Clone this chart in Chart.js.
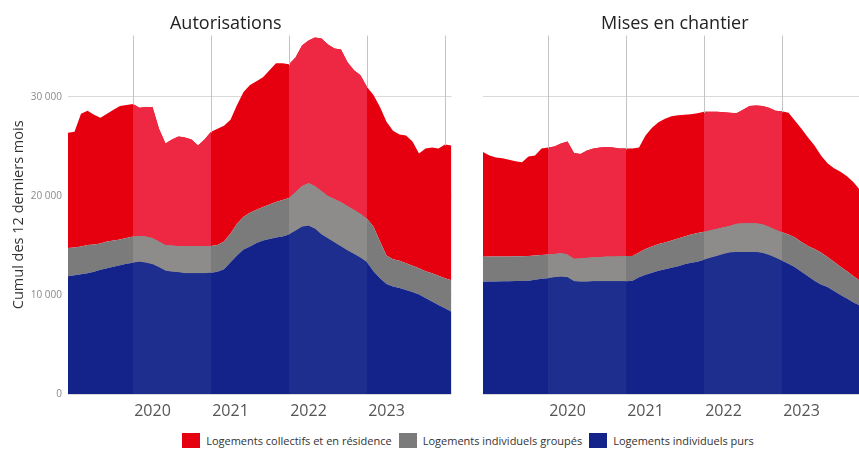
<!DOCTYPE html>
<html lang="fr">
<head>
<meta charset="utf-8">
<script src="https://cdn.jsdelivr.net/npm/chart.js@4.4.1/dist/chart.umd.min.js"></script>
<style>
    html, body { margin: 0; padding: 0; background: #fff; width: 859px; height: 449px; overflow: hidden; position: relative; font-family: "Open Sans", sans-serif; }
    #boxAut { position: absolute; left: 0; top: 0; width: 455px; height: 420px; }
    #boxMec { position: absolute; left: 470px; top: 0; width: 400px; height: 420px; }
    #legende { position: absolute; left: 0; top: 433px; width: 859px; display: flex; justify-content: center; align-items: center; font-size: 11px; color: #333; padding-left: 84px; box-sizing: border-box; }
    #legende span.carre { display: inline-block; width: 18px; height: 15px; margin-right: 6px; }
    #legende span.item { display: flex; align-items: center; margin-right: 7px; }
</style>
</head>
<body>
<div id="boxAut"><canvas id="graficoAut"></canvas></div>
<div id="boxMec"><canvas id="graficoMec"></canvas></div>
<div id="legende">
    <span class="item"><span class="carre" style="background:#E6000F"></span>Logements collectifs et en résidence</span>
    <span class="item"><span class="carre" style="background:#7B7B7B"></span>Logements individuels groupés</span>
    <span class="item"><span class="carre" style="background:#14238A"></span>Logements individuels purs</span>
</div>
<script>
// mois : décembre 2018 -> novembre 2023
const mois = [];
for (let a = 2018; a <= 2023; a++) {
    for (let m = 1; m <= 12; m++) {
        if ((a === 2018 && m < 12) || (a === 2023 && m > 11)) continue;
        mois.push(a + '-' + String(m).padStart(2, '0'));
    }
}
const anneesAffichees = ['2020', '2021', '2022', '2023'];
const graduationsY = [0, 10000, 20000, 30000];

// Autorisations
const autPurs = [11900, 12000, 12100, 12200, 12350, 12550, 12700, 12850, 13000, 13150,
    13250, 13350, 13250, 13100, 12800, 12450, 12350, 12300, 12200, 12200,
    12200, 12200, 12250, 12350, 12600, 13300, 14000, 14600, 14900, 15250,
    15500, 15650, 15800, 15900, 16100, 16500, 16900, 17000, 16700, 16100,
    15700, 15300, 14900, 14500, 14150, 13750, 13300, 12400, 11700, 11100,
    10850, 10700, 10500, 10300, 10050, 9700, 9350, 9000, 8650, 8300];
const autGroupes = [2850, 2800, 2800, 2850, 2750, 2650, 2700, 2650, 2600, 2600,
    2650, 2600, 2650, 2650, 2600, 2600, 2650, 2650, 2750, 2750,
    2750, 2750, 2700, 2700, 2800, 2900, 3200, 3300, 3400, 3350,
    3400, 3500, 3600, 3700, 3700, 3900, 4100, 4300, 4300, 4400,
    4300, 4400, 4500, 4500, 4450, 4450, 4400, 4500, 3700, 2900,
    2750, 2750, 2700, 2650, 2650, 2700, 2850, 2950, 3050, 3200];
const autCollectifs = [11650, 11700, 13400, 13550, 13100, 12700, 12900, 13200, 13500, 13450,
    13400, 12950, 13100, 13250, 11400, 10250, 10700, 11050, 10950, 10750,
    10150, 10750, 11550, 11750, 11700, 11500, 12000, 12600, 12900, 13000,
    13100, 13550, 14000, 13800, 13500, 13600, 14200, 14400, 15000, 15400,
    15300, 15200, 15400, 14500, 14100, 14000, 13300, 13300, 13600, 13500,
    13000, 12750, 12900, 12550, 11600, 12400, 12700, 12850, 13500, 13600];

// Mises en chantier
const mecPurs = [11350, 11360, 11370, 11380, 11400, 11410, 11420, 11450, 11550, 11650,
    11700, 11800, 11850, 11800, 11400, 11350, 11350, 11380, 11400, 11400,
    11400, 11400, 11400, 11450, 11800, 12050, 12250, 12450, 12600, 12750,
    12900, 13100, 13250, 13350, 13550, 13750, 13950, 14150, 14300, 14350,
    14350, 14350, 14350, 14250, 14050, 13750, 13450, 13150, 12800, 12350,
    11900, 11450, 11050, 10800, 10400, 10000, 9650, 9250, 8950, 8700];
const mecGroupes = [2520, 2520, 2520, 2520, 2500, 2500, 2500, 2490, 2450, 2400,
    2400, 2350, 2400, 2300, 2250, 2350, 2400, 2420, 2450, 2480,
    2500, 2520, 2540, 2500, 2500, 2600, 2650, 2700, 2700, 2750,
    2800, 2800, 2850, 2900, 2850, 2800, 2750, 2700, 2700, 2850,
    2890, 2890, 2890, 2900, 2850, 2850, 2900, 2950, 3000, 3000,
    3050, 3200, 3250, 3050, 2950, 2850, 2750, 2650, 2500, 2300];
const mecCollectifs = [10580, 10220, 10010, 9900, 9750, 9590, 9480, 10060, 10100, 10750,
    10800, 10850, 11050, 11400, 10700, 10550, 10850, 11000, 11050, 11070,
    11000, 10880, 10860, 10850, 10600, 11450, 12000, 12300, 12500, 12550,
    12450, 12300, 12150, 12100, 12100, 11950, 11800, 11600, 11400, 11150,
    11460, 11860, 11910, 11950, 12000, 12000, 12200, 12300, 11800, 11450,
    10950, 10450, 9800, 9450, 9450, 9600, 9600, 9500, 9150, 9000];

// bandes claires : octobre 2019 -> octobre 2020, octobre 2021 -> octobre 2022
const bandes = [['2019-10', '2020-10'], ['2021-10', '2022-10']];

// [foncé, clair]
const cores = {
    collectifs: ['#E6000F', '#EE2843'],
    groupes: ['#7B7B7B', '#8E8C8A'],
    purs: ['#14238A', '#1D2E8E']
};

// ne garde que les mois de la bande
function masque(data, b) {
    return data.map((v, i) => (mois[i] >= b[0] && mois[i] <= b[1]) ? v : null);
}

function serie(label, data, cor, fill, pilha, ordem) {
    return {
        label: label,
        data: data,
        stack: pilha,
        order: ordem,
        fill: fill,
        backgroundColor: cor,
        borderWidth: 0,
        borderColor: 'rgba(0,0,0,0)',
        pointRadius: 0,
        tension: 0,
        spanGaps: false
    };
}

// traits verticaux d'octobre, seulement au-dessus des aires
function grilleOctobre(series) {
    return {
        id: 'grilleOctobre',
        afterDatasetsDraw(chart) {
            const { ctx, chartArea, scales } = chart;
            ctx.save();
            ctx.strokeStyle = '#c4c4c4';
            ctx.lineWidth = 1;
            mois.forEach((m, i) => {
                if (!m.endsWith('-10')) return;
                const total = series.reduce((s, d) => s + d[i], 0);
                const x = Math.round(scales.x.getPixelForValue(i)) + 0.5;
                ctx.beginPath();
                ctx.moveTo(x, chartArea.top);
                ctx.lineTo(x, scales.y.getPixelForValue(total) + 1);
                ctx.stroke();
            });
            ctx.restore();
        }
    };
}

function formatMil(v) {
    return v === 0 ? '0' : String(v).replace(/\B(?=(\d{3})+(?!\d))/g, ' ');
}

function criarGrafico(id, titulo, purs, groupes, collectifs, comEixoY, padding) {
    const datasets = [
        serie('Logements individuels purs', purs, cores.purs[0], 'origin', 'fond', 2),
        serie('Logements individuels groupés', groupes, cores.groupes[0], '-1', 'fond', 2),
        serie('Logements collectifs et en résidence', collectifs, cores.collectifs[0], '-1', 'fond', 2)
    ];
    bandes.forEach((b, k) => {
        datasets.push(serie('Logements individuels purs', masque(purs, b), cores.purs[1], 'origin', 'bande' + k, 1));
        datasets.push(serie('Logements individuels groupés', masque(groupes, b), cores.groupes[1], '-1', 'bande' + k, 1));
        datasets.push(serie('Logements collectifs et en résidence', masque(collectifs, b), cores.collectifs[1], '-1', 'bande' + k, 1));
    });

    const ctx = document.getElementById(id).getContext('2d');
    return new Chart(ctx, {
        type: 'line',
        data: { labels: mois, datasets: datasets },
        plugins: [grilleOctobre([purs, groupes, collectifs])],
        options: {
            responsive: true,
            maintainAspectRatio: false,
            animation: false,
            layout: { padding: padding },
            plugins: {
                legend: { display: false },
                tooltip: { enabled: false },
                title: {
                    display: true,
                    text: titulo,
                    color: '#222',
                    font: { family: 'Open Sans', size: 18, weight: 'normal' },
                    padding: { top: 13, bottom: 1 }
                }
            },
            scales: {
                x: {
                    offset: false,
                    border: { display: false },
                    grid: { display: false },
                    ticks: {
                        autoSkip: false,
                        maxRotation: 0,
                        padding: 0,
                        color: '#555',
                        font: { family: 'Open Sans', size: 16 },
                        callback: function (value, index) {
                            const m = mois[index];
                            return (m.endsWith('-01') && anneesAffichees.includes(m.slice(0, 4))) ? m.slice(0, 4) : '';
                        }
                    },
                    afterFit: s => { s.height = 26; }
                },
                y: {
                    display: true,
                    stacked: true,
                    min: 0,
                    max: 36200,
                    border: { display: false },
                    afterBuildTicks: s => { s.ticks = graduationsY.map(v => ({ value: v })); },
                    grid: { drawTicks: false, color: '#d9d9d9' },
                    ticks: {
                        display: comEixoY,
                        padding: 6,
                        color: '#8a8a8a',
                        font: { family: 'Open Sans', size: 10 },
                        callback: v => formatMil(v)
                    },
                    title: {
                        display: comEixoY,
                        text: 'Cumul des 12 derniers mois',
                        color: '#333',
                        font: { family: 'Open Sans', size: 14.5 },
                        padding: { top: 10, bottom: 0 }
                    },
                    afterFit: s => { s.width = comEixoY ? 68 : 0; }
                }
            }
        }
    });
}

let graficoAut = criarGrafico('graficoAut', 'Autorisations', autPurs, autGroupes, autCollectifs, true,
    { left: 0, right: 3.5, top: 0, bottom: 0 });
let graficoMec = criarGrafico('graficoMec', 'Mises en chantier', mecPurs, mecGroupes, mecCollectifs, false,
    { left: 13, right: 3.5, top: 0, bottom: 0 });
</script>
</body>
</html>
